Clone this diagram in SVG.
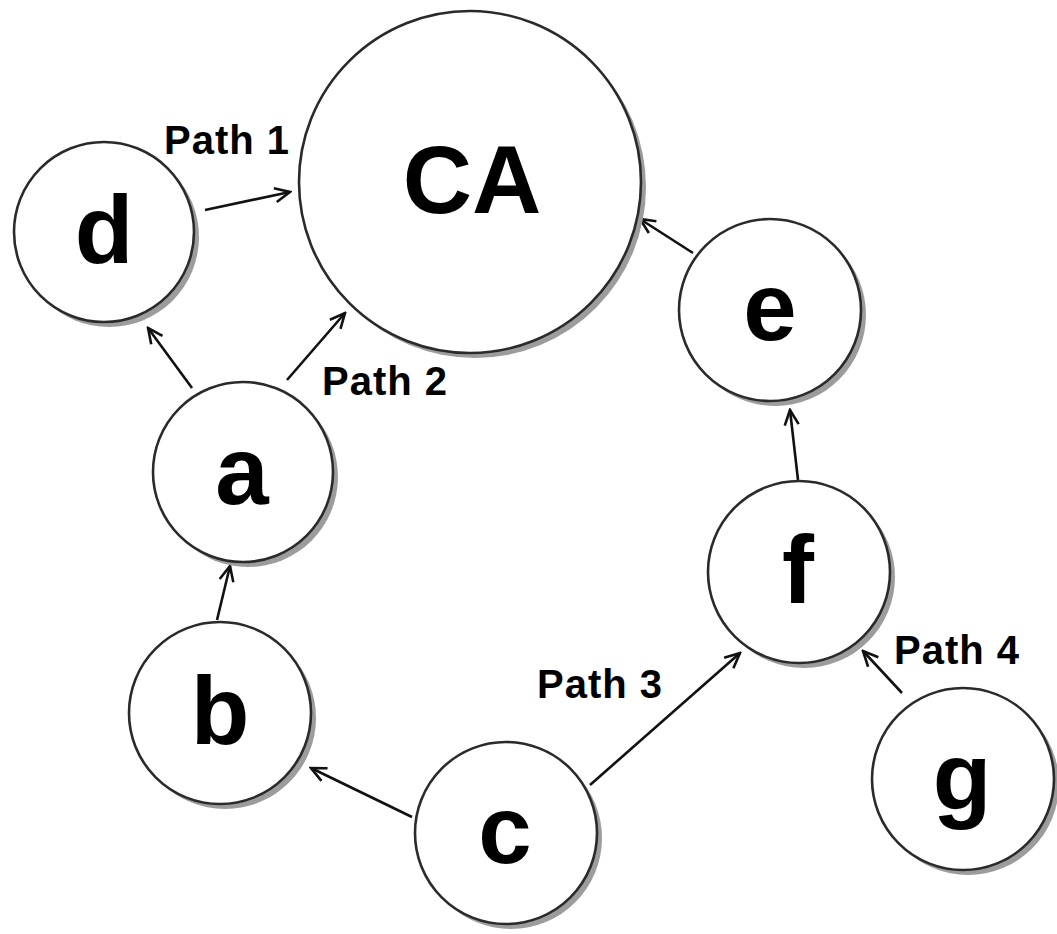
<svg xmlns="http://www.w3.org/2000/svg" width="1057" height="934" viewBox="0 0 1057 934">
  <defs>
    <marker id="arrow" viewBox="0 0 20 20" refX="18" refY="10" markerWidth="20" markerHeight="20" markerUnits="userSpaceOnUse" orient="auto">
      <path d="M3,3 L18,10 L3,17" fill="none" stroke="#111" stroke-width="2.6" stroke-linejoin="miter"/>
    </marker>
    <filter id="soft" x="-10%" y="-10%" width="120%" height="120%">
      <feGaussianBlur stdDeviation="0.7"/>
    </filter>
  </defs>
  <style>
    .shadow { fill: #9c9c9c; filter: url(#soft); }
    .disc { fill: #ffffff; stroke: #2a2a2a; stroke-width: 2.6; }
    .letter { font-family: "Liberation Sans", Arial, sans-serif; font-weight: bold; font-size: 96px; fill: #000; text-anchor: middle; }
    .label { font-family: "Liberation Sans", Arial, sans-serif; font-weight: bold; font-size: 40px; fill: #000; letter-spacing: 1px; }
    .edge { stroke: #111; stroke-width: 2.6; fill: none; marker-end: url(#arrow); }
  </style>

  <rect width="1057" height="934" fill="#ffffff"/>

  <!-- connectors -->
  <g id="connectors">
    <line class="edge" x1="205" y1="210" x2="290" y2="192"/>
    <line class="edge" x1="192" y1="388" x2="148" y2="328"/>
    <line class="edge" x1="287" y1="380" x2="345" y2="313"/>
    <line class="edge" x1="217" y1="620" x2="230" y2="566"/>
    <line class="edge" x1="412" y1="817" x2="311" y2="768"/>
    <line class="edge" x1="590" y1="785" x2="740" y2="653"/>
    <line class="edge" x1="902" y1="693" x2="863" y2="651"/>
    <line class="edge" x1="798" y1="480" x2="790" y2="410"/>
    <line class="edge" x1="693" y1="253" x2="640" y2="219"/>
  </g>

  <!-- nodes -->
  <g id="node-CA">
    <circle class="shadow" cx="475" cy="187" r="171"/>
    <circle class="disc" cx="470" cy="182" r="171"/>
    <text class="letter" x="472" y="213">CA</text>
  </g>
  <g id="node-d">
    <circle class="shadow" cx="109" cy="237" r="90"/>
    <circle class="disc" cx="104" cy="232" r="90"/>
    <text class="letter" x="104" y="263">d</text>
  </g>
  <g id="node-a">
    <circle class="shadow" cx="248" cy="477" r="90"/>
    <circle class="disc" cx="243" cy="472" r="90"/>
    <text class="letter" x="242" y="504">a</text>
  </g>
  <g id="node-b">
    <circle class="shadow" cx="225" cy="718" r="91"/>
    <circle class="disc" cx="220" cy="713" r="91"/>
    <text class="letter" x="220" y="744">b</text>
  </g>
  <g id="node-c">
    <circle class="shadow" cx="511" cy="838" r="91"/>
    <circle class="disc" cx="506" cy="833" r="91"/>
    <text class="letter" x="505" y="863">c</text>
  </g>
  <g id="node-f">
    <circle class="shadow" cx="804" cy="577" r="91"/>
    <circle class="disc" cx="799" cy="572" r="91"/>
    <text class="letter" x="798" y="603">f</text>
  </g>
  <g id="node-e">
    <circle class="shadow" cx="775" cy="315" r="91"/>
    <circle class="disc" cx="770" cy="310" r="91"/>
    <text class="letter" x="770" y="340">e</text>
  </g>
  <g id="node-g">
    <circle class="shadow" cx="968" cy="784" r="91"/>
    <circle class="disc" cx="963" cy="779" r="91"/>
    <text class="letter" x="962" y="810">g</text>
  </g>

  <!-- path labels -->
  <g id="labels">
    <text class="label" x="164" y="154">Path 1</text>
    <text class="label" x="322" y="395">Path 2</text>
    <text class="label" x="537" y="698">Path 3</text>
    <text class="label" x="894" y="664">Path 4</text>
  </g>
</svg>
